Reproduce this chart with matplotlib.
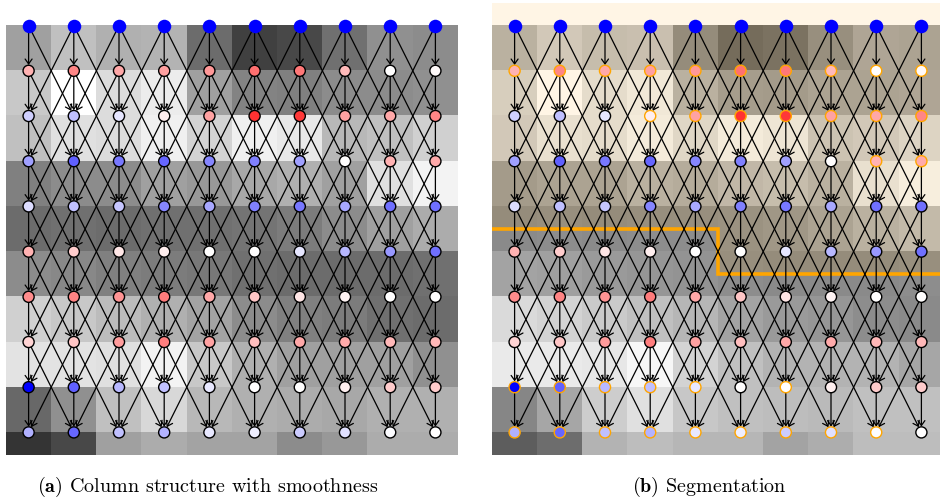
import numpy as np
import matplotlib.pyplot as plt
from matplotlib.patches import FancyArrowPatch

plt.rcParams['mathtext.fontset'] = 'cm'

# grey levels (0-255) of the image under the graph, one row per node row
image_rows = [
    [160, 192, 176, 180, 108, 64, 72, 112, 144, 140],
    [200, 255, 220, 236, 160, 132, 128, 140, 140, 144],
    [192, 224, 220, 240, 212, 240, 232, 184, 192, 208],
    [128, 140, 140, 160, 152, 168, 176, 160, 224, 244],
    [108, 112, 108, 112, 112, 116, 124, 140, 160, 172],
    [140, 136, 128, 124, 120, 112, 108, 108, 108, 112],
    [208, 200, 188, 176, 164, 140, 128, 124, 112, 108],
    [228, 228, 224, 244, 200, 176, 160, 160, 160, 144],
    [104, 144, 192, 216, 184, 176, 172, 168, 176, 176],
    [52, 72, 160, 172, 164, 164, 140, 152, 172, 172],
]

# node scores for rows 1..9 (row 0 holds the source nodes)
node_rows = [
    [0.30, 0.47, 0.34, 0.37, 0.40, 0.56, 0.53, 0.27, 0.00, 0.02],
    [-0.18, -0.25, -0.10, 0.07, 0.36, 0.80, 0.78, 0.36, 0.34, 0.47],
    [-0.37, -0.62, -0.53, -0.60, -0.47, -0.50, -0.37, 0.00, 0.30, 0.33],
    [-0.14, -0.25, -0.22, -0.47, -0.34, -0.50, -0.53, -0.34, -0.56, -0.56],
    [0.30, 0.20, 0.10, 0.07, 0.00, 0.00, -0.10, -0.28, -0.40, -0.56],
    [0.45, 0.48, 0.42, 0.51, 0.34, 0.22, 0.10, 0.04, 0.00, 0.00],
    [0.17, 0.22, 0.39, 0.50, 0.36, 0.25, 0.34, 0.33, 0.28, 0.28],
    [-1.00, -0.62, -0.28, -0.25, -0.09, 0.00, 0.00, 0.06, 0.20, 0.20],
    [-0.31, -0.60, -0.25, -0.30, -0.09, -0.07, -0.20, -0.12, -0.01, 0.00],
]

# nodes (rows 1..9) that the segmentation flags
flagged_rows = [
    [1, 1, 1, 1, 1, 1, 1, 1, 1, 1],
    [0, 0, 0, 1, 1, 1, 1, 1, 1, 1],
    [0, 0, 0, 0, 0, 0, 0, 0, 1, 1],
    [0, 0, 0, 0, 0, 0, 0, 0, 0, 0],
    [0, 0, 0, 0, 0, 0, 0, 0, 0, 0],
    [0, 0, 0, 0, 0, 0, 0, 0, 0, 0],
    [0, 0, 0, 0, 0, 0, 0, 0, 0, 0],
    [1, 1, 1, 1, 1, 0, 1, 0, 0, 0],
    [1, 1, 1, 1, 1, 1, 1, 1, 1, 0],
]

# height of the segmentation surface per column
seg_heights = [4.5, 4.5, 4.5, 4.5, 4.5, 5.5, 5.5, 5.5, 5.5, 5.5]

captions = [r"$\mathbf{(a)}$ Column structure with smoothness",
            r"$\mathbf{(b)}$ Segmentation"]

image = np.array(image_rows, dtype=float)
scores = np.array(node_rows)
flagged = np.array(flagged_rows, dtype=bool)
n_rows, n_cols = image.shape


def draw_graph(ax, segmentation=False):
    ax.set_xlim(-0.5, n_cols - 0.5)
    ax.set_ylim(n_rows - 0.5, -0.5)
    ax.axis('off')

    vmin = -64 if segmentation else 0
    ax.imshow(image, cmap='gray', vmin=vmin, vmax=255, interpolation='nearest',
              extent=(-0.5, n_cols - 0.5, n_rows, 0), zorder=0)

    if segmentation:
        edges = np.arange(n_cols + 1) - 0.5
        ax.stairs(seg_heights, edges, baseline=-0.5, fill=True,
                  color='orange', alpha=0.1, linewidth=0, zorder=1)
        ax.stairs(seg_heights, edges, baseline=None, color='orange',
                  linewidth=2.6, zorder=1.5)

    # edges: straight down, and two rows down to the neighbouring columns
    for r in range(n_rows - 1):
        for c in range(n_cols):
            targets = [(r + 1, c)]
            if r + 2 < n_rows:
                targets += [(r + 2, c + d) for d in (-1, 1) if 0 <= c + d < n_cols]
            for tr, tc in targets:
                arr = FancyArrowPatch((c, r), (tc, tr),
                                      arrowstyle='->,head_length=0.35,head_width=0.25',
                                      mutation_scale=10, linewidth=0.9,
                                      color='black', shrinkA=0, shrinkB=4.2,
                                      zorder=2)
                ax.add_patch(arr)

    ax.scatter(np.arange(n_cols), np.zeros(n_cols), s=95, color='blue',
               linewidths=0, zorder=3, clip_on=False)

    yy, xx = np.mgrid[1:n_rows, 0:n_cols]
    edge_cols = np.where(flagged, 'orange', 'black') if segmentation else 'black'
    ax.scatter(xx.ravel(), yy.ravel(), c=scores.ravel(), cmap='bwr',
               vmin=-1, vmax=1, s=64, edgecolors=np.ravel(edge_cols),
               linewidths=1.0, zorder=3, clip_on=False)


fig = plt.figure(figsize=(9.4, 5.0), dpi=100)
ax_a = fig.add_axes([6 / 940, 45 / 500, 452 / 940, 452 / 500])
ax_b = fig.add_axes([492 / 940, 45 / 500, 452 / 940, 452 / 500])
draw_graph(ax_a)
draw_graph(ax_b, segmentation=True)

fig.text(37 / 940, 1 - 487 / 500, captions[0], family='cmr10', fontsize=14.5,
         ha='left', va='center')
fig.text(632 / 940, 1 - 487 / 500, captions[1], family='cmr10', fontsize=14.5,
         ha='left', va='center')

fig.savefig('out.png', dpi=100)
